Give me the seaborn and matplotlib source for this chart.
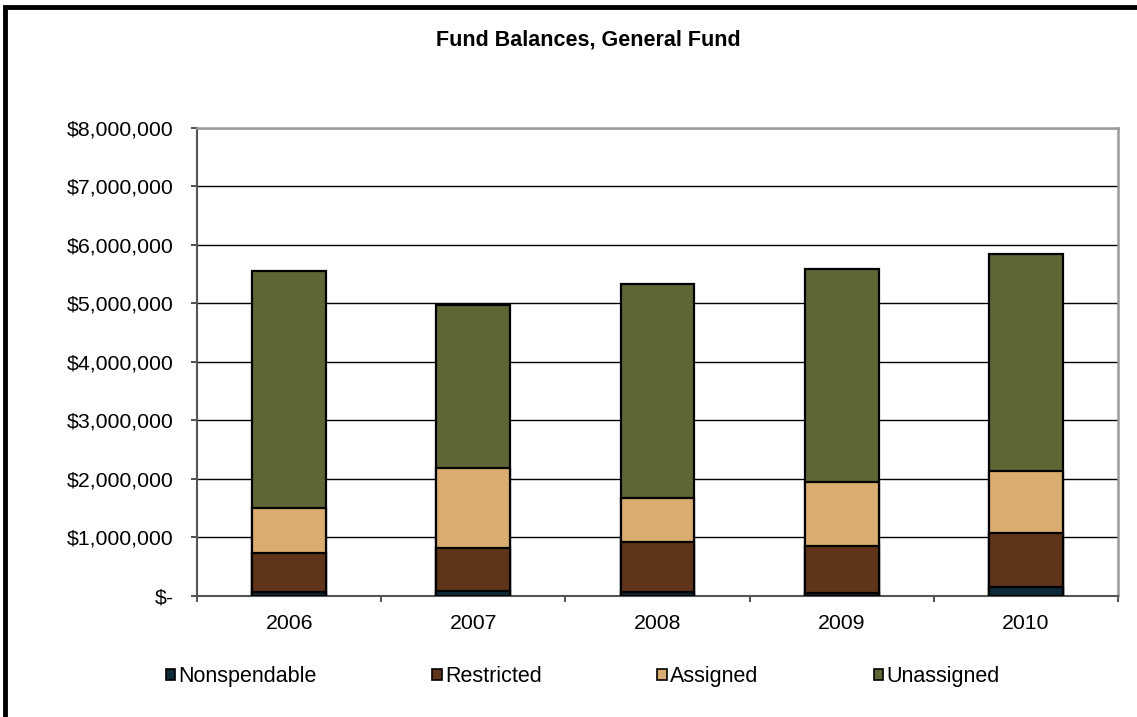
import matplotlib
matplotlib.use("Agg")
import matplotlib.pyplot as plt
from matplotlib.patches import Rectangle
from matplotlib.ticker import FuncFormatter, FixedLocator
import numpy as np
import pandas as pd
import seaborn as sns

years = ["2006", "2007", "2008", "2009", "2010"]
nonspendable = [70000, 80000, 70000, 50000, 150000]
restricted = [665000, 740000, 860000, 810000, 930000]
assigned = [765000, 1370000, 745000, 1090000, 1060000]
unassigned = [4055000, 2780000, 3655000, 3640000, 3710000]

series_names = ["Nonspendable", "Restricted", "Assigned", "Unassigned"]
series_colors = ["#0E2A38", "#603418", "#D9AC6F", "#5E6636"]

sns.set_theme(style="white")
plt.rcParams["font.family"] = ["Liberation Sans", "DejaVu Sans"]
plt.rcParams["text.color"] = "black"

fig = plt.figure(figsize=(11.37, 7.17), dpi=100)
ax = fig.add_axes([0.1733, 0.1688, 0.81, 0.6527])

stack = np.cumsum(np.array([nonspendable, restricted, assigned, unassigned]), axis=0)

# Stacked bars: draw cumulative totals from the top series down
for i in range(len(series_names) - 1, -1, -1):
    df = pd.DataFrame({"year": years, "value": stack[i]})
    sns.barplot(data=df, x="year", y="value", color=series_colors[i],
                saturation=1, width=0.4, edgecolor="black", linewidth=1.6,
                ax=ax, zorder=3)

ax.set_xlim(-0.5, 4.5)
ax.set_ylim(0, 8000000)
ax.set_xlabel("")
ax.set_ylabel("")

# Horizontal gridlines at each million
ax.yaxis.set_major_locator(FixedLocator(np.arange(0, 8000001, 1000000)))
ax.grid(axis="y", color="black", linewidth=1.0, zorder=0)
ax.grid(axis="x", visible=False)

def money(v, pos):
    if v == 0:
        return "$-"
    return "${:,.0f}".format(v)

ax.yaxis.set_major_formatter(FuncFormatter(money))

# Category ticks between bars, labels centred under each bar
ax.set_xticks(np.arange(-0.5, 5.0, 1.0))
ax.set_xticklabels([""] * 6)
ax.set_xticks(np.arange(5), minor=True)
ax.set_xticklabels(years, minor=True)
ax.tick_params(axis="x", which="major", direction="out", length=4.5, width=1.2,
               color="#333333", bottom=True)
ax.tick_params(axis="x", which="minor", length=0, pad=13, labelsize=15.3,
               labelcolor="black")
ax.tick_params(axis="y", direction="out", length=4.5, width=1.2, color="#333333",
               left=True, pad=12.5, labelsize=15.3, labelcolor="black")

for side in ["top", "right"]:
    ax.spines[side].set_color("#9a9a9a")
    ax.spines[side].set_linewidth(1.8)
for side in ["left", "bottom"]:
    ax.spines[side].set_color("#555555")
    ax.spines[side].set_linewidth(1.5)

fig.text(0.5176, 0.944, "Fund Balances, General Fund", ha="center", va="center",
         fontsize=15.5, fontweight="bold", color="black")

handles = [Rectangle((0, 0), 1, 1, facecolor=c, edgecolor="black", linewidth=1.2)
           for c in series_colors]
fig.legend(handles, series_names, loc="center", bbox_to_anchor=(0.5125, 0.056),
           ncol=4, frameon=False, fontsize=15.5, handlelength=0.45,
           handleheight=0.45, handletextpad=0.15, columnspacing=5.35,
           labelcolor="black")

# Outer chart border
fig.patches.append(Rectangle((5 / 1137, -0.1), 1.2, (717 - 7) / 717 + 0.1,
                             transform=fig.transFigure, fill=False,
                             edgecolor="black", linewidth=3.5))

fig.savefig("out.png", dpi=100)
